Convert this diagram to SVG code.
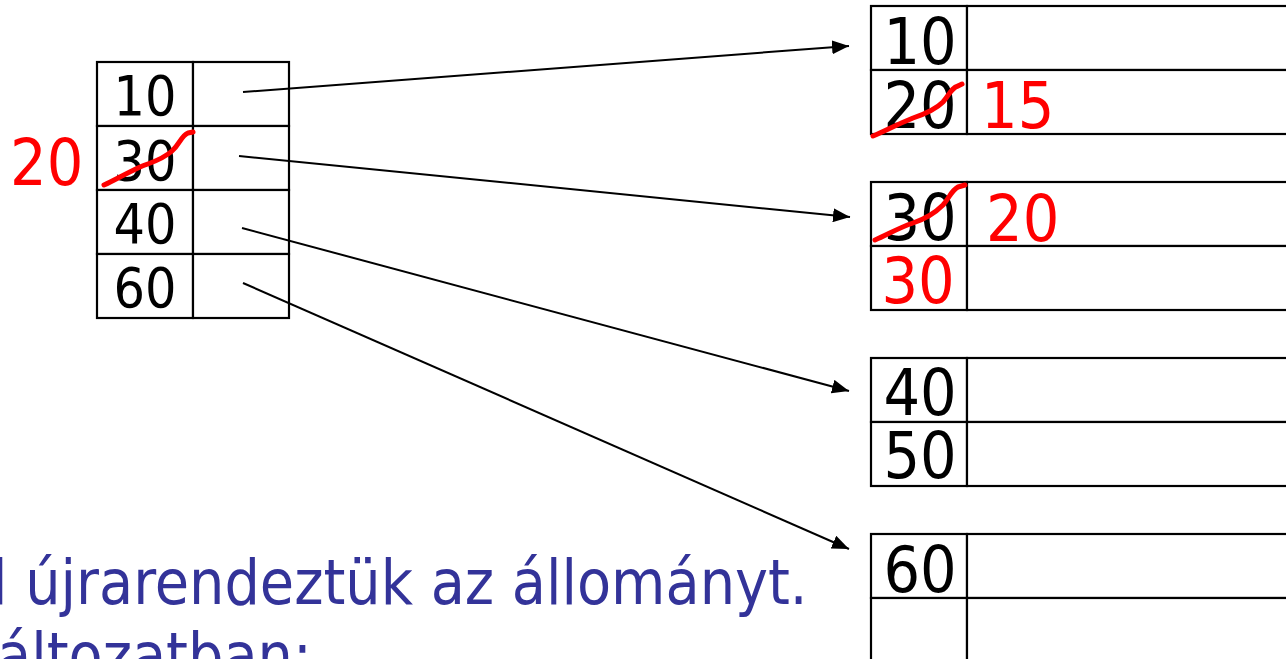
<svg xmlns="http://www.w3.org/2000/svg" width="1286" height="659" viewBox="0 0 1286 659">
<style>
  text { font-family: 'DejaVu Sans Condensed', 'DejaVu Sans', sans-serif; font-stretch: condensed; }
  .cell { fill: #fff; stroke: #000; stroke-width: 2.2; }
  .ls { font-size: 55px; fill: #000; text-anchor: middle; }
  .rs { font-size: 64px; fill: #000; text-anchor: middle; }
  .red { font-size: 64px; fill: #ff0000; }
  .scr { fill: none; stroke: #ff0000; stroke-width: 5; stroke-linecap: round; stroke-linejoin: round; }
  .ptr { stroke: #000; stroke-width: 2; fill: none; marker-end: url(#ah); }
  .body { font-size: 62px; fill: #333399; }
</style>
<defs>
  <marker id="ah" viewBox="0 0 17 14" refX="17" refY="7" markerWidth="17" markerHeight="14" markerUnits="userSpaceOnUse" orient="auto">
    <path d="M0,0 L17,7 L0,14 Z" fill="#000"/>
  </marker>
</defs>
<rect width="1286" height="659" fill="#fff"/>

<g id="index">
  <rect class="cell" x="97" y="62" width="96" height="64"/>
  <rect class="cell" x="193" y="62" width="96" height="64"/>
  <rect class="cell" x="97" y="126" width="96" height="64"/>
  <rect class="cell" x="193" y="126" width="96" height="64"/>
  <rect class="cell" x="97" y="190" width="96" height="64"/>
  <rect class="cell" x="193" y="190" width="96" height="64"/>
  <rect class="cell" x="97" y="254" width="96" height="64"/>
  <rect class="cell" x="193" y="254" width="96" height="64"/>
  <text class="ls" x="145" y="115">10</text>
  <text class="ls" x="145" y="180">30</text>
  <text class="ls" x="145" y="243">40</text>
  <text class="ls" x="145" y="307">60</text>
  <text class="red" x="10" y="185">20</text>
  <path class="scr" d="M104,185 C115,180 125,174 140,167 C152,162 162,160 172,151 C180,144 181,136 188,133 L193,132"/>
</g>

<g id="block1">
  <rect class="cell" x="871" y="6" width="96" height="64"/>
  <rect class="cell" x="967" y="6" width="330" height="64"/>
  <rect class="cell" x="871" y="70" width="96" height="64"/>
  <rect class="cell" x="967" y="70" width="330" height="64"/>
  <text class="rs" x="920" y="64">10</text>
  <text class="rs" x="920" y="128">20</text>
  <text class="red" x="981" y="128">15</text>
  <path class="scr" d="M873,136 C885,131 898,124 913,118 C925,114 935,110 943,102 C950,94 951,88 958,86 L962,84"/>
</g>

<g id="block2">
  <rect class="cell" x="871" y="182" width="96" height="64"/>
  <rect class="cell" x="967" y="182" width="330" height="64"/>
  <rect class="cell" x="871" y="246" width="96" height="64"/>
  <rect class="cell" x="967" y="246" width="330" height="64"/>
  <text class="rs" x="920" y="240">30</text>
  <text class="red" x="986" y="241">20</text>
  <text class="red" x="918" y="303" text-anchor="middle">30</text>
  <path class="scr" d="M875,240 C887,235 898,228 913,223 C925,219 935,213 943,205 C950,197 951,191 958,187 L965,185"/>
</g>

<g id="block3">
  <rect class="cell" x="871" y="358" width="96" height="64"/>
  <rect class="cell" x="967" y="358" width="330" height="64"/>
  <rect class="cell" x="871" y="422" width="96" height="64"/>
  <rect class="cell" x="967" y="422" width="330" height="64"/>
  <text class="rs" x="920" y="415">40</text>
  <text class="rs" x="920" y="478">50</text>
</g>

<g id="block4">
  <rect class="cell" x="871" y="534" width="96" height="64"/>
  <rect class="cell" x="967" y="534" width="330" height="64"/>
  <rect class="cell" x="871" y="598" width="96" height="80"/>
  <rect class="cell" x="967" y="598" width="330" height="80"/>
  <text class="rs" x="920" y="592">60</text>
</g>

<g id="connectors">
  <line class="ptr" x1="243" y1="92" x2="849" y2="46"/>
  <line class="ptr" x1="239" y1="156" x2="850" y2="217"/>
  <line class="ptr" x1="242" y1="228" x2="849" y2="391"/>
  <line class="ptr" x1="243" y1="283" x2="849" y2="549"/>
</g>

<g id="caption">
  <text class="body" x="-8" y="604">l újrarendeztük az állományt.</text>
  <text class="body" x="-3" y="677">áltozatban:</text>
</g>
</svg>
